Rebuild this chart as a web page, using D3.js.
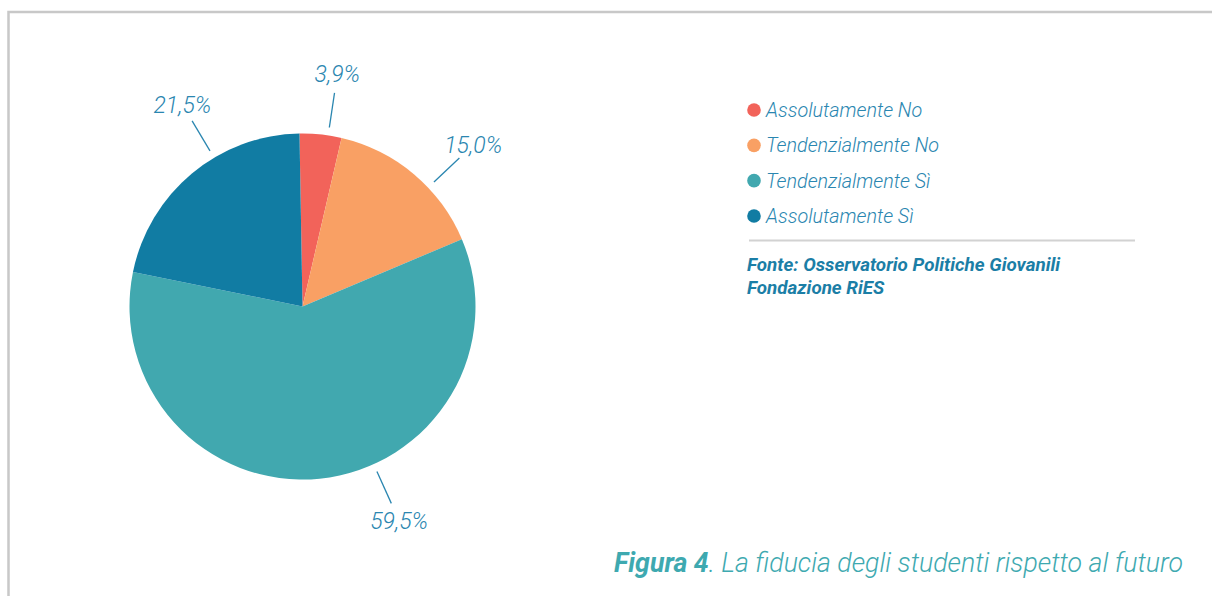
<!DOCTYPE html>
<html>
<head>
<meta charset="utf-8">
<script src="https://cdn.jsdelivr.net/npm/d3@7"></script>
<style>
  html, body { margin: 0; padding: 0; background: #ffffff; }
  svg { display: block; }
</style>
</head>
<body>
<svg id="chart" width="1212" height="596"></svg>
<script>
// ---- data ----
const categories = ["Assolutamente No", "Tendenzialmente No", "Tendenzialmente Sì", "Assolutamente Sì"];
const values = [3.9, 15.0, 59.5, 21.5];
const valueLabels = ["3,9%", "15,0%", "59,5%", "21,5%"];
const colors = ["#f2635a", "#f9a064", "#41a8af", "#117ca3"];
const sourceLines = ["Fonte: Osservatorio Politiche Giovanili", "Fondazione RiES"];
const captionBold = "Figura 4";
const captionRest = ". La fiducia degli studenti rispetto al futuro";

// ---- layout (positions / styles) ----
const W = 1212, H = 596;
const cx = 302.5, cy = 306.5, R = 173;
const startDeg = -1;
const labelShiftDeg = [2.5, 6.5, -18.6, 9];
const textColor = "#2a86b0";
const font = "Roboto, 'Noto Sans', sans-serif";

const svg = d3.select("#chart");

// frame
svg.append("path")
  .attr("d", `M8.5,${H} L8.5,12 L${W},12`)
  .attr("fill", "none").attr("stroke", "#c8c8c8").attr("stroke-width", 2.5);

const toRad = d => d * Math.PI / 180;
const pie = d3.pie().sort(null).value(d => d)
  .startAngle(toRad(startDeg)).endAngle(toRad(startDeg + 360));
const arcs = pie(values);
const arc = d3.arc().innerRadius(0).outerRadius(R);

const g = svg.append("g").attr("transform", `translate(${cx},${cy})`);
g.selectAll("path.slice").data(arcs).enter().append("path")
  .attr("class", "slice")
  .attr("d", arc)
  .attr("fill", (d, i) => colors[i]);

// leader lines and labels
const pt = (a, r) => [r * Math.sin(a), -r * Math.cos(a)];
arcs.forEach((d, i) => {
  const a = (d.startAngle + d.endAngle) / 2 + toRad(labelShiftDeg[i]);
  const p1 = pt(a, 181), p2 = pt(a, 216), p3 = pt(a, 235);
  g.append("line")
    .attr("x1", p1[0]).attr("y1", p1[1]).attr("x2", p2[0]).attr("y2", p2[1])
    .attr("stroke", textColor).attr("stroke-width", 1.3);
  g.append("text")
    .attr("x", p3[0]).attr("y", p3[1])
    .attr("text-anchor", "middle").attr("dy", "0.35em")
    .attr("font-family", font).attr("font-style", "italic").attr("font-weight", 300)
    .attr("font-size", 23).attr("fill", textColor)
    .text(valueLabels[i]);
});

// legend
const legendY = d3.scalePoint().domain(categories).range([110, 216]);
const lg = svg.append("g");
categories.forEach((c, i) => {
  lg.append("circle").attr("cx", 754).attr("cy", legendY(c)).attr("r", 6.8).attr("fill", colors[i]);
  lg.append("text").attr("x", 766).attr("y", legendY(c)).attr("dy", "0.36em")
    .attr("font-family", font).attr("font-style", "italic").attr("font-weight", 300)
    .attr("font-size", 19.8).attr("fill", textColor).text(c);
});

// separator
svg.append("line").attr("x1", 749).attr("x2", 1135).attr("y1", 240.5).attr("y2", 240.5)
  .attr("stroke", "#d2d2d2").attr("stroke-width", 2);

// source
sourceLines.forEach((s, i) => {
  svg.append("text").attr("x", 747).attr("y", 271 + i * 22.5)
    .attr("font-family", font).attr("font-style", "italic").attr("font-weight", 700)
    .attr("font-size", 18.8).attr("fill", "#1b7ea6").text(s);
});

// caption
const cap = svg.append("text").attr("x", 1183).attr("y", 572).attr("text-anchor", "end")
  .attr("font-family", font).attr("font-style", "italic").attr("font-size", 26.7).attr("fill", "#3ea9b0");
cap.append("tspan").attr("font-weight", 700).text(captionBold);
cap.append("tspan").attr("font-weight", 300).text(captionRest);
</script>
</body>
</html>
